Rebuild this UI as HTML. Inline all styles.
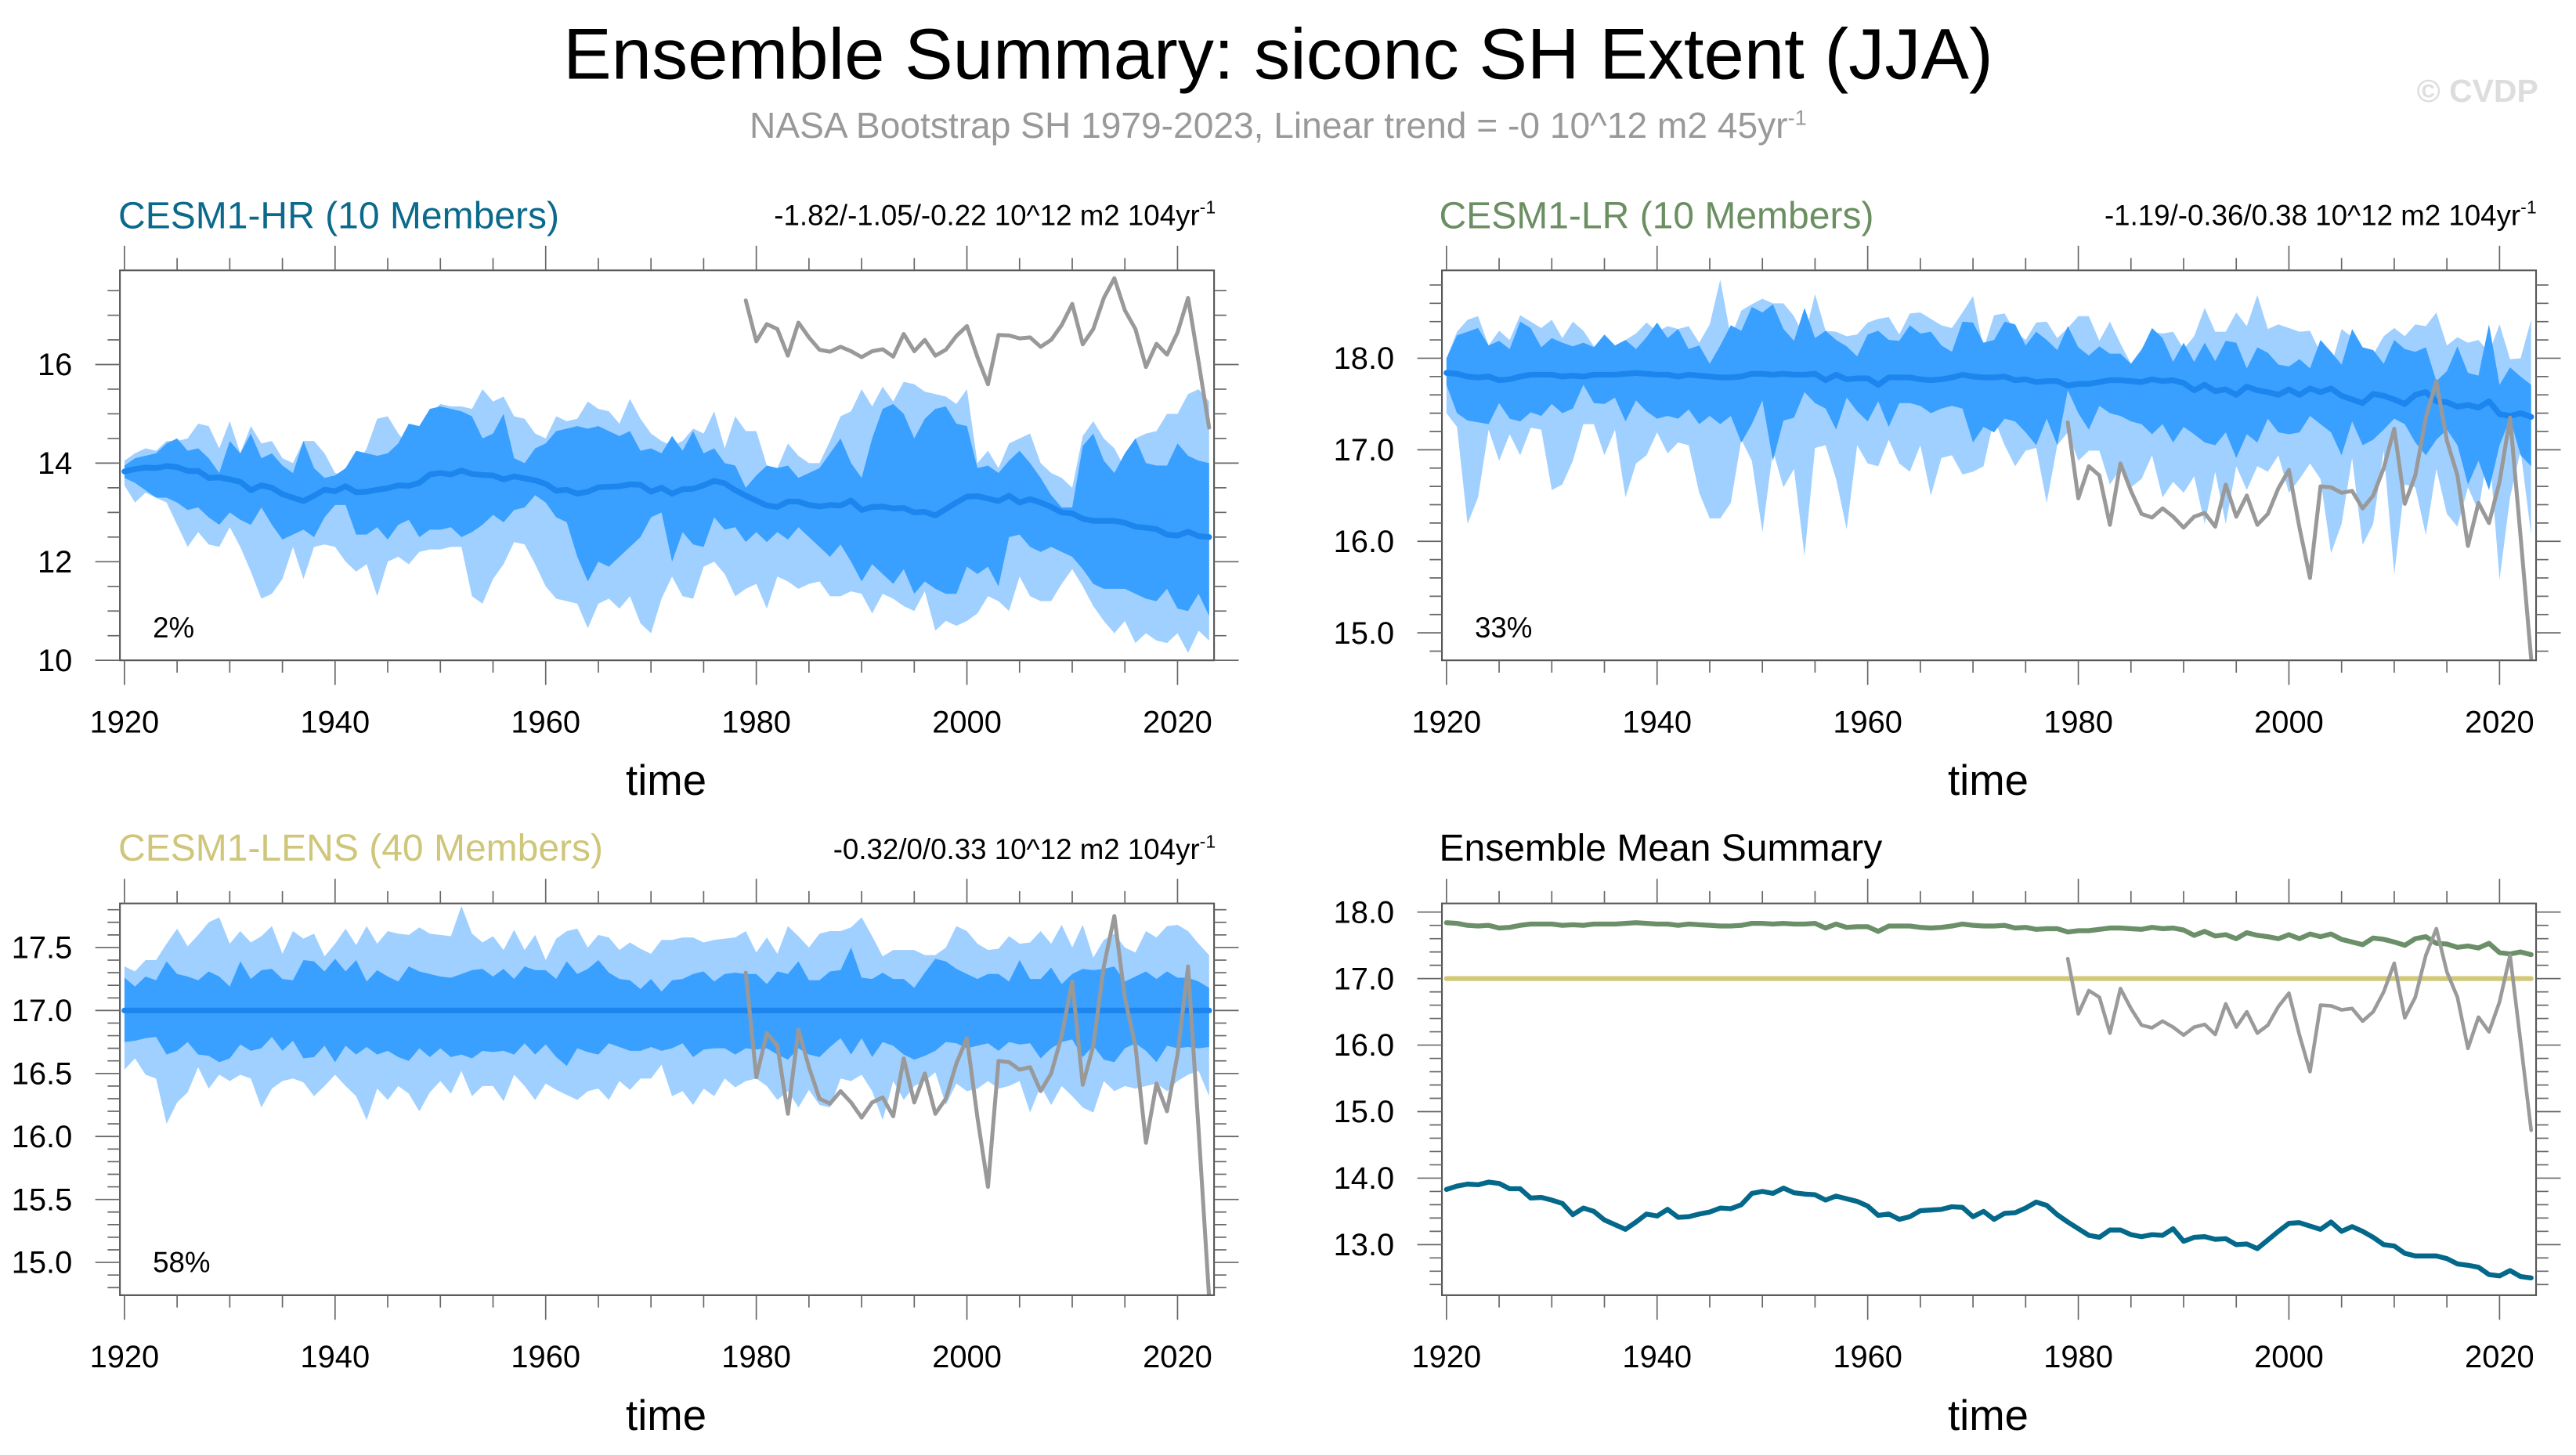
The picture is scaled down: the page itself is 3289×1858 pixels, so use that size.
<!DOCTYPE html>
<html><head><meta charset="utf-8">
<style>
html,body{margin:0;padding:0;background:#fff;}
svg{display:block;}
text{font-family:"Liberation Sans",sans-serif;}
</style></head>
<body>
<svg id="chart" xmlns="http://www.w3.org/2000/svg" width="3289" height="1858" viewBox="0 0 1568 885.8" preserveAspectRatio="none">
<rect x="0" y="0" width="1568" height="886" fill="#fff"/>
<text x="778" y="48" font-size="44" text-anchor="middle" fill="#000">Ensemble Summary: siconc SH Extent (JJA)</text>
<text x="778" y="84" font-size="22" text-anchor="middle" fill="#999">NASA Bootstrap SH 1979-2023, Linear trend = -0 10^12 m2 45yr<tspan font-size="13" dy="-8">-1</tspan></text>
<text x="1545" y="62" font-size="19.5" text-anchor="end" fill="#ddd" font-weight="bold">© CVDP</text>

<text x="72" y="139" font-size="22.9" fill="#0b6a8c">CESM1-HR (10 Members)</text>
<text x="740" y="137" font-size="17.5" text-anchor="end" fill="#000">-1.82/-1.05/-0.22 10^12 m2 104yr<tspan font-size="11" dy="-7">-1</tspan></text>
<text x="876" y="139" font-size="22.9" fill="#6b8f62">CESM1-LR (10 Members)</text>
<text x="1544" y="137" font-size="17.5" text-anchor="end" fill="#000">-1.19/-0.36/0.38 10^12 m2 104yr<tspan font-size="11" dy="-7">-1</tspan></text>
<text x="72" y="524" font-size="22.9" fill="#cfc67a">CESM1-LENS (40 Members)</text>
<text x="740" y="523" font-size="17.5" text-anchor="end" fill="#000">-0.32/0/0.33 10^12 m2 104yr<tspan font-size="11" dy="-7">-1</tspan></text>
<text x="876" y="524" font-size="22.9" fill="#000">Ensemble Mean Summary</text>
</svg>
<script>
const years = [];
for (let y = 1920; y <= 2023; y++) years.push(y);
const obsYears = [];
for (let y = 1979; y <= 2023; y++) obsYears.push(y);

const obsExtent = [17.30,16.47,16.82,16.72,16.18,16.85,16.55,16.30,16.26,16.36,16.27,16.15,16.27,16.31,16.16,16.62,16.27,16.50,16.18,16.30,16.58,16.78,16.15,15.60,16.60,16.59,16.53,16.55,16.36,16.50,16.80,17.23,16.41,16.72,17.35,17.75,17.10,16.72,15.95,16.42,16.20,16.65,17.35,16.05,14.72];

const hrMean = [13.83,13.88,13.91,13.90,13.94,13.92,13.84,13.84,13.70,13.71,13.67,13.62,13.45,13.55,13.50,13.37,13.30,13.23,13.34,13.46,13.43,13.53,13.41,13.42,13.46,13.49,13.55,13.54,13.60,13.77,13.80,13.77,13.85,13.78,13.76,13.75,13.67,13.73,13.69,13.65,13.58,13.44,13.46,13.38,13.42,13.51,13.52,13.53,13.57,13.56,13.42,13.50,13.38,13.47,13.48,13.55,13.64,13.59,13.45,13.34,13.24,13.14,13.11,13.22,13.22,13.15,13.12,13.15,13.14,13.24,13.05,13.11,13.12,13.08,13.09,13.00,13.01,12.94,13.07,13.20,13.32,13.33,13.28,13.23,13.34,13.20,13.27,13.20,13.11,13.00,12.98,12.87,12.83,12.83,12.83,12.79,12.71,12.69,12.66,12.55,12.53,12.61,12.52,12.50];
const hrOuterHi = [14.05,14.2,14.3,14.25,14.45,14.45,14.5,14.8,14.75,14.3,14.85,14.2,14.75,14.4,14.45,14.1,14.0,14.45,14.45,14.2,13.8,13.75,13.9,14.3,14.9,14.95,14.6,14.35,14.7,15.0,15.2,15.15,15.15,15.1,15.5,15.25,15.35,14.95,14.9,14.6,14.5,14.95,14.85,14.9,15.25,15.1,15.05,14.8,15.3,14.9,14.6,14.45,14.35,14.45,14.7,14.6,15.05,14.3,14.95,14.65,14.65,13.95,13.9,14.4,14.15,14.0,14.0,14.45,14.95,15.05,15.5,15.15,15.55,15.25,15.65,15.6,15.45,15.4,15.35,15.2,15.5,14.0,14.25,13.9,14.4,14.5,14.6,14.0,13.8,13.7,13.5,14.55,14.85,14.5,14.3,13.9,14.5,14.6,14.65,15.0,15.0,15.4,15.5,15.25];
const hrInnerHi = [13.95,14.1,14.15,14.2,14.4,14.5,14.25,14.3,14.1,13.8,14.45,14.2,14.6,14.1,14.2,13.95,13.8,14.45,13.9,13.7,13.75,13.9,14.25,14.2,14.15,14.2,14.4,14.8,14.75,15.1,15.15,15.1,15.05,14.95,14.5,14.6,15.0,14.1,14.0,14.3,14.4,14.65,14.7,14.75,14.7,14.75,14.65,14.55,14.65,14.25,14.3,14.2,14.55,14.25,14.65,14.2,14.3,14.0,13.95,13.5,13.75,13.95,13.9,13.95,13.7,13.8,13.9,14.2,14.5,14.0,13.7,14.5,15.1,15.2,15.0,14.5,14.9,15.1,15.15,14.8,14.75,13.9,13.95,13.8,14.05,14.25,14.0,13.7,13.35,13.1,13.1,14.35,14.6,14.05,13.8,14.2,14.5,14.0,13.95,13.95,14.4,14.15,14.05,14.0];
const hrInnerLo = [13.7,13.6,13.45,13.3,13.3,13.2,13.05,13.1,12.9,12.75,13.0,12.85,12.75,13.1,12.75,12.45,12.55,12.65,12.5,12.9,13.15,13.15,12.55,12.55,12.7,12.45,12.75,12.85,12.5,12.65,12.65,12.7,12.5,12.6,12.75,12.95,12.8,13.05,13.1,13.35,13.2,12.9,12.8,12.1,11.6,12.0,11.9,12.1,12.3,12.5,12.9,13.0,12.0,12.6,12.35,12.3,12.9,12.65,12.7,12.4,12.6,12.4,12.6,12.45,12.7,12.5,12.3,12.1,12.35,12.0,11.6,11.95,11.75,11.55,11.85,11.35,11.6,11.45,11.35,11.35,11.9,11.75,11.9,11.5,12.5,12.55,12.3,12.2,12.3,12.2,12.1,11.85,11.55,11.45,11.45,11.45,11.35,11.25,11.2,11.45,11.05,11.0,11.35,10.9];
const hrOuterLo = [13.55,13.2,13.4,13.3,13.2,12.75,12.3,12.6,12.35,12.3,12.7,12.3,11.8,11.25,11.35,11.65,12.3,11.65,12.3,12.35,12.3,12.0,11.8,11.95,11.3,12.0,12.1,11.95,12.2,12.25,12.25,12.3,12.3,11.3,11.15,11.65,11.95,12.4,12.35,11.95,11.5,11.25,11.2,11.15,10.65,11.15,11.25,11.05,11.3,10.75,10.55,11.25,11.7,11.3,11.25,11.9,12.0,11.75,11.3,11.45,11.55,11.05,11.7,11.6,11.45,11.55,11.6,11.3,11.3,11.4,11.35,10.95,11.35,11.25,11.1,11.0,11.4,10.6,10.8,10.7,10.8,10.95,11.3,11.2,11.0,11.7,11.3,11.2,11.2,11.55,11.85,11.5,11.1,10.8,10.55,10.8,10.35,10.55,10.4,10.35,10.55,10.15,10.6,10.4];

const lrMean = [17.84,17.83,17.80,17.79,17.80,17.76,17.77,17.80,17.82,17.82,17.82,17.80,17.81,17.80,17.82,17.82,17.82,17.83,17.84,17.83,17.82,17.82,17.80,17.82,17.81,17.80,17.79,17.79,17.80,17.83,17.83,17.82,17.83,17.82,17.82,17.83,17.76,17.82,17.77,17.78,17.78,17.71,17.79,17.79,17.79,17.77,17.76,17.77,17.79,17.82,17.80,17.79,17.79,17.80,17.76,17.77,17.74,17.75,17.75,17.70,17.72,17.72,17.74,17.76,17.76,17.75,17.74,17.77,17.75,17.76,17.73,17.65,17.71,17.64,17.66,17.60,17.69,17.65,17.63,17.60,17.66,17.60,17.67,17.63,17.67,17.59,17.55,17.51,17.61,17.59,17.55,17.50,17.60,17.63,17.53,17.52,17.47,17.49,17.46,17.53,17.39,17.37,17.40,17.36];
const lrOuterHi = [18.00,18.29,18.42,18.46,18.14,18.30,18.20,18.47,18.40,18.33,18.42,18.22,18.40,18.30,18.13,18.17,18.12,18.20,18.27,18.39,18.29,18.35,18.32,18.35,18.17,18.37,18.86,18.23,18.52,18.59,18.65,18.60,18.60,18.46,18.23,18.70,18.30,18.29,18.24,18.26,18.39,18.43,18.45,18.26,18.49,18.50,18.43,18.36,18.33,18.50,18.68,18.10,18.47,18.49,18.29,18.20,18.39,18.40,18.22,18.33,18.46,18.46,18.19,18.40,18.16,17.94,18.10,18.29,18.27,18.29,18.10,18.24,18.55,18.29,18.29,18.50,18.35,18.69,18.32,18.37,18.33,18.29,18.30,18.06,17.91,18.32,18.23,17.91,18.04,18.24,18.33,18.24,18.37,18.35,18.50,18.14,18.23,18.17,18.20,18.06,18.37,17.99,18.00,18.42];
const lrInnerHi = [18.0,18.25,18.29,18.33,18.14,18.19,18.10,18.40,18.33,18.12,18.22,18.17,18.13,18.17,18.12,18.26,18.14,18.20,18.10,18.23,18.39,18.22,18.32,18.10,18.14,17.94,18.14,18.36,18.30,18.56,18.50,18.59,18.32,18.19,18.55,18.22,18.30,18.20,18.13,18.02,18.26,18.30,18.20,18.19,18.36,18.27,18.29,18.14,18.07,18.40,18.39,18.17,18.20,18.40,18.37,18.14,18.29,18.20,18.09,18.35,18.12,18.03,18.13,18.05,18.05,17.94,18.09,18.33,18.22,17.96,18.17,17.96,18.17,17.97,18.19,18.17,17.89,18.12,18.06,17.93,17.91,17.99,17.89,18.20,18.07,17.93,18.32,18.12,18.09,17.94,18.20,18.10,18.07,18.12,17.75,17.86,18.13,17.84,17.81,18.37,17.71,17.90,17.80,17.71];
const lrInnerLo = [17.71,17.40,17.32,17.30,17.28,17.51,17.34,17.31,17.41,17.37,17.50,17.40,17.45,17.71,17.51,17.50,17.57,17.31,17.54,17.42,17.34,17.37,17.34,17.44,17.28,17.37,17.28,17.37,17.08,17.28,17.54,16.88,17.32,17.35,17.63,17.51,17.45,17.22,17.57,17.42,17.31,17.53,17.25,17.51,17.51,17.48,17.40,17.45,17.48,17.45,17.08,17.25,17.19,17.34,17.31,17.19,17.05,17.34,17.05,17.65,17.40,17.22,17.48,17.40,17.37,17.31,17.28,17.17,17.28,17.08,17.25,17.17,17.08,17.05,17.19,16.91,17.17,17.08,17.34,17.19,17.17,17.19,17.37,17.28,17.19,16.94,17.31,17.05,17.11,17.22,17.34,17.28,17.08,16.94,17.11,17.22,17.05,16.62,16.88,16.56,17.05,17.34,16.94,16.82];
const lrOuterLo = [17.40,17.25,16.19,16.48,17.22,16.88,17.17,16.94,17.24,17.22,16.56,16.62,16.88,17.28,17.28,16.94,17.22,16.48,16.85,16.94,17.19,16.96,17.08,17.05,16.53,16.25,16.25,16.42,17.11,16.88,16.10,16.99,16.59,16.79,15.84,17.02,17.05,16.68,16.13,17.05,16.85,16.82,17.11,16.85,16.76,17.05,16.50,16.91,16.94,16.73,16.76,16.82,17.34,17.05,16.82,16.99,17.02,16.42,17.05,17.19,16.88,16.99,16.99,16.62,16.79,16.59,16.68,16.94,16.48,16.65,16.53,16.71,16.19,16.76,16.19,16.82,16.56,16.82,16.76,16.94,16.53,16.68,16.85,16.68,15.87,16.19,16.91,15.96,16.19,16.99,15.64,16.62,16.59,16.07,16.79,16.30,16.16,16.59,16.33,17.05,15.58,16.48,16.99,16.07];

const lensMean = [];
for (let i = 0; i < 104; i++) lensMean.push(17.0);
const lensOuterHi = [17.35,17.31,17.40,17.40,17.53,17.65,17.51,17.60,17.70,17.74,17.53,17.63,17.54,17.59,17.67,17.45,17.63,17.57,17.61,17.43,17.53,17.65,17.52,17.67,17.53,17.63,17.61,17.60,17.66,17.61,17.60,17.59,17.83,17.61,17.54,17.59,17.48,17.64,17.48,17.60,17.40,17.57,17.63,17.65,17.50,17.60,17.58,17.48,17.54,17.49,17.45,17.56,17.56,17.58,17.58,17.54,17.56,17.57,17.58,17.63,17.46,17.58,17.45,17.67,17.59,17.50,17.61,17.63,17.63,17.66,17.74,17.59,17.43,17.48,17.48,17.48,17.44,17.44,17.50,17.67,17.63,17.53,17.48,17.49,17.59,17.53,17.54,17.63,17.53,17.68,17.50,17.68,17.42,17.56,17.61,17.50,17.46,17.63,17.58,17.67,17.68,17.63,17.53,17.44];
const lensInnerHi = [17.26,17.19,17.27,17.24,17.39,17.29,17.27,17.24,17.31,17.27,17.19,17.39,17.25,17.32,17.33,17.25,17.24,17.40,17.39,17.31,17.41,17.31,17.40,17.23,17.32,17.27,17.23,17.35,17.31,17.29,17.27,17.26,17.29,17.32,17.33,17.27,17.33,17.25,17.35,17.32,17.32,17.25,17.39,17.29,17.33,17.40,17.30,17.25,17.24,17.17,17.25,17.15,17.24,17.25,17.29,17.31,17.23,17.29,17.30,17.29,17.29,17.21,17.31,17.29,17.39,17.24,17.24,17.31,17.32,17.50,17.26,17.25,17.30,17.25,17.25,17.18,17.30,17.41,17.39,17.33,17.29,17.25,17.29,17.29,17.23,17.40,17.25,17.25,17.34,17.21,17.29,17.33,17.32,17.33,17.35,17.23,17.27,17.31,17.25,17.31,17.26,17.26,17.23,17.18];
const lensInnerLo = [16.75,16.76,16.78,16.79,16.65,16.68,16.75,16.65,16.64,16.59,16.62,16.73,16.68,16.70,16.79,16.68,16.76,16.62,16.63,16.72,16.59,16.72,16.65,16.71,16.65,16.68,16.63,16.60,16.70,16.63,16.70,16.63,16.65,16.62,16.68,16.67,16.68,16.65,16.74,16.65,16.73,16.63,16.56,16.70,16.67,16.65,16.74,16.71,16.68,16.68,16.71,16.68,16.70,16.74,16.63,16.69,16.70,16.70,16.65,16.70,16.69,16.70,16.65,16.61,16.70,16.65,16.63,16.71,16.78,16.65,16.78,16.63,16.75,16.72,16.65,16.61,16.64,16.68,16.75,16.74,16.70,16.72,16.74,16.68,16.75,16.73,16.74,16.62,16.70,16.75,16.77,16.63,16.72,16.61,16.59,16.70,16.74,16.68,16.59,16.72,16.70,16.71,16.70,16.71];
const lensOuterLo = [16.53,16.62,16.49,16.46,16.10,16.27,16.35,16.55,16.38,16.49,16.44,16.49,16.46,16.23,16.38,16.44,16.46,16.43,16.32,16.40,16.49,16.40,16.32,16.13,16.38,16.29,16.40,16.34,16.20,16.35,16.44,16.34,16.52,16.32,16.40,16.40,16.28,16.49,16.40,16.29,16.42,16.37,16.33,16.29,16.36,16.38,16.29,16.44,16.37,16.46,16.46,16.57,16.32,16.36,16.25,16.38,16.32,16.46,16.39,16.44,16.46,16.40,16.29,16.36,16.23,16.37,16.25,16.23,16.46,16.44,16.49,16.36,16.13,16.44,16.29,16.40,16.44,16.51,16.25,16.42,16.36,16.38,16.44,16.38,16.40,16.44,16.19,16.40,16.25,16.40,16.32,16.23,16.19,16.44,16.36,16.40,16.38,16.40,16.42,16.36,16.44,16.49,16.52,16.32];

const xTickYears = [1920,1940,1960,1980,2000,2020];

const svg = document.getElementById('chart');
const NS = 'http://www.w3.org/2000/svg';
function mk(tag, attrs, parent) {
  const e = document.createElementNS(NS, tag);
  for (const k in attrs) e.setAttribute(k, attrs[k]);
  (parent || svg).appendChild(e);
  return e;
}

const panels = [
  {key:'hr', x0:73, x1:739, y0:164.6, y1:402, ymin:10, ymax:17.91, majors:[10,12,14,16], minor:0.5, dec:0, pct:'2%',
   bands:[hrOuterLo,hrOuterHi,hrInnerLo,hrInnerHi], mean:hrMean},
  {key:'lr', x0:877.7, x1:1543.7, y0:164.6, y1:402, ymin:14.7, ymax:18.96, majors:[15,16,17,18], minor:0.2, dec:1, pct:'33%',
   bands:[lrOuterLo,lrOuterHi,lrInnerLo,lrInnerHi], mean:lrMean},
  {key:'lens', x0:73, x1:739, y0:550, y1:788.5, ymin:14.74, ymax:17.85, majors:[15,15.5,16,16.5,17,17.5], minor:0.1, dec:1, pct:'58%',
   bands:[lensOuterLo,lensOuterHi,lensInnerLo,lensInnerHi], mean:lensMean},
  {key:'summary', x0:877.7, x1:1543.7, y0:550, y1:788.5, ymin:12.24, ymax:18.13, majors:[13,14,15,16,17,18], minor:0.2, dec:1, pct:null}
];
const YR0 = 1919.57, YR1 = 2023.47;

panels.forEach(p => {
  const xs = yr => p.x0 + (yr - YR0) / (YR1 - YR0) * (p.x1 - p.x0);
  const ys = v => p.y1 - (v - p.ymin) / (p.ymax - p.ymin) * (p.y1 - p.y0);
  const g = mk('g', {});
  
  
  const clipId = 'clip-' + p.key;
  const cp = mk('clipPath', {id: clipId}, g);
  mk('rect', {x:p.x0, y:p.y0, width:p.x1-p.x0, height:p.y1-p.y0}, cp);
  const plot = mk('g', {'clip-path':'url(#' + clipId + ')'}, g);

  function band(lo, hi, color, name) {
    let d = '';
    years.forEach((yr, i) => { d += (i ? 'L' : 'M') + xs(yr).toFixed(2) + ',' + ys(hi[i]).toFixed(2); });
    for (let i = years.length - 1; i >= 0; i--) d += 'L' + xs(years[i]).toFixed(2) + ',' + ys(lo[i]).toFixed(2);
    const e = mk('path', {d: d + 'Z', fill: color, stroke: 'none'}, plot);
    
    
  }
  function line(xv, yv, color, w, name) {
    const d = xv.map((yr, i) => (i ? 'L' : 'M') + xs(yr).toFixed(2) + ',' + ys(yv[i]).toFixed(2)).join('');
    const e = mk('path', {d: d, fill: 'none', stroke: color, 'stroke-width': w, 'stroke-linejoin': 'round', 'stroke-linecap': 'round'}, plot);
    
    
  }

  if (p.bands) {
    band(p.bands[0], p.bands[1], '#a0d0ff', p.key + '-outer-range-band');
    band(p.bands[2], p.bands[3], '#39a0ff', p.key + '-inner-range-band');
    line(years, p.mean, '#1c86ee', 3.5, p.key + '-ensemble-mean-line');
    line(obsYears, obsExtent, '#999999', 2.4, p.key + '-observed-line');
  } else {
    line(years, lrMean, '#6b8f68', 3, 'summary-lr-mean-line');
    line(years, lensMean, '#d2c978', 3, 'summary-lens-mean-line');
    line(obsYears, obsExtent, '#9a9a9a', 2.2, 'summary-observed-line');
    line(years, hrMean, '#04688a', 3, 'summary-hr-mean-line');
  }

  const fr = mk('rect', {x:p.x0, y:p.y0, width:p.x1-p.x0, height:p.y1-p.y0, fill:'none', stroke:'#555', 'stroke-width':1}, g);
  
  

  for (let yr = 1920; yr <= 2023; yr += 5) {
    const x = xs(yr);
    const len = (yr % 20 === 0) ? 15 : 7.5;
    mk('line', {x1:x, x2:x, y1:p.y0, y2:p.y0 - len, stroke:'#666', 'stroke-width':0.8}, g);
    mk('line', {x1:x, x2:x, y1:p.y1, y2:p.y1 + len, stroke:'#666', 'stroke-width':0.8}, g);
  }
  xTickYears.forEach(yr => {
    const t = mk('text', {x: xs(yr), y: p.y1 + 44, 'font-size': 19, 'text-anchor': 'middle', fill: '#000'}, g);
    t.textContent = yr;
    
    
  });
  const xt = mk('text', {x: (p.x0 + p.x1) / 2 - 0.5, y: p.y1 + 82, 'font-size': 26, 'text-anchor': 'middle', fill: '#000'}, g);
  xt.textContent = 'time';
  
  

  const nMin = Math.round((p.ymax - p.ymin) / p.minor) + 2;
  const start = Math.ceil(p.ymin / p.minor - 1e-6) * p.minor;
  for (let i = 0; i < nMin; i++) {
    const v = start + i * p.minor;
    if (v > p.ymax + 1e-6) break;
    const isMaj = p.majors.some(m => Math.abs(m - v) < 1e-6);
    const len = isMaj ? 15 : 7.5;
    const y = ys(v);
    mk('line', {x1:p.x0, x2:p.x0 - len, y1:y, y2:y, stroke:'#666', 'stroke-width':0.8}, g);
    mk('line', {x1:p.x1, x2:p.x1 + len, y1:y, y2:y, stroke:'#666', 'stroke-width':0.8}, g);
  }
  p.majors.forEach(v => {
    const t = mk('text', {x: p.x0 - 29, y: ys(v) + 6.5, 'font-size': 19, 'text-anchor': 'end', fill: '#000'}, g);
    t.textContent = v.toFixed(p.dec);
    
    
  });

  if (p.pct) {
    const t = mk('text', {x: p.x0 + 20, y: p.y1 - 14, 'font-size': 17.5, fill: '#000'}, g);
    t.textContent = p.pct;
    
    
  }
});
</script>
</body></html>
